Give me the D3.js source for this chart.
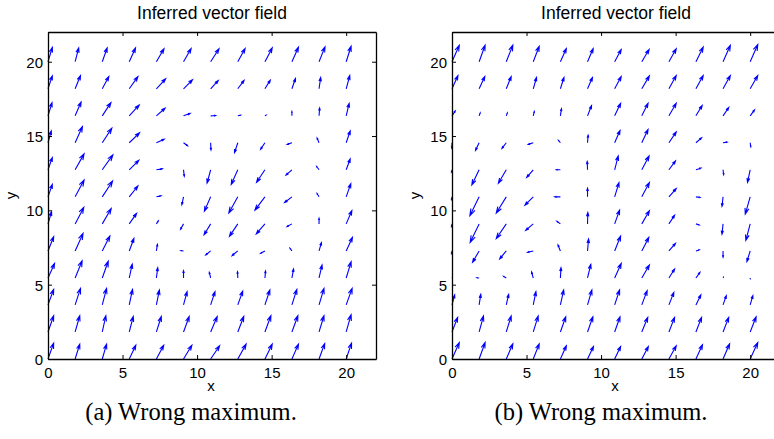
<!DOCTYPE html>
<html>
<head>
<meta charset="utf-8">
<script src="https://d3js.org/d3.v7.min.js"></script>
<style>
body { margin: 0; padding: 0; background: #fff; }
svg { display: block; }
.tick-label { font-family: "Liberation Sans", Arial, sans-serif; font-size: 15px; fill: #000; }
.title { font-family: "Liberation Sans", Arial, sans-serif; font-size: 17.5px; fill: #000; }
.caption { font-family: "Liberation Serif", "Times New Roman", serif; font-size: 24.5px; fill: #000; }
</style>
</head>
<body>
<svg id="chart" width="774" height="439"></svg>
<script>
// grid positions of the arrows (same for x and y)
const gridPts = [0, 1.82, 3.64, 5.45, 7.27, 9.09, 10.91, 12.73, 14.55, 16.36, 18.18, 20];
const tickVals = [0, 5, 10, 15, 20];

// (a) arrow components, rows from y=0 (bottom) to y=20 (top)
const uA = [
  [.38,.31,.29,.44,.49,.56,.6,.56,.49,.44,.38,.36],
  [.38,.31,.24,.27,.33,.38,.44,.4,.4,.4,.33,.33],
  [.38,.36,.29,.22,.2,.24,.29,.33,.33,.33,.33,.4],
  [.44,.47,.4,.2,.09,0,-.09,-.02,.04,.11,.2,.33],
  [.38,.53,.51,.31,.07,-.18,-.33,-.38,-.29,-.13,.16,.42],
  [.24,.58,.6,.49,.13,-.2,-.44,-.56,-.58,-.33,0,.38],
  [.29,.6,.69,.58,.31,-.11,-.42,-.6,-.67,-.49,-.13,.31],
  [.29,.6,.71,.64,.4,.05,-.24,-.44,-.56,-.4,-.16,.27],
  [.22,.49,.64,.69,.53,.27,.02,-.22,-.29,-.31,-.13,.27],
  [.27,.4,.58,.67,.58,.44,.33,.18,.07,0,.04,.2],
  [.29,.36,.44,.58,.62,.6,.51,.42,.36,.24,.11,.24],
  [.29,.24,.33,.42,.51,.51,.56,.49,.49,.44,.4,.33]
];
const vA = [
  [1.07,1.0,1.0,.93,.93,.93,.89,1.0,1.0,1.0,1.04,1.07],
  [1.09,1.09,1.09,1.04,1.04,1.04,1.04,1.04,1.09,1.09,1.09,1.16],
  [1.04,1.11,1.11,1.04,1.0,.89,.89,.93,1.0,1.04,1.11,1.11],
  [.98,1.16,1.13,.93,.69,.49,.38,.42,.47,.6,.87,1.09],
  [.96,1.18,1.0,.84,.44,.02,-.27,-.31,-.16,.18,.56,.91],
  [.82,1.11,1.04,.71,.2,-.36,-.73,-.84,-.67,-.18,.38,.89],
  [.84,1.13,1.07,.73,.07,-.53,-.96,-1.09,-.89,-.38,.22,.89],
  [.82,1.07,1.0,.64,.07,-.44,-.89,-.98,-.84,-.36,.22,.73],
  [.8,1.09,.98,.67,.24,-.2,-.49,-.67,-.44,-.11,.31,.8],
  [.89,.93,.89,.73,.51,.16,.02,.04,.04,.29,.53,.84],
  [.87,.89,.82,.82,.67,.6,.56,.56,.58,.69,.76,.89],
  [.96,.93,.93,.93,.87,.89,.87,.89,.93,.98,1.0,1.04]
];

// (b) arrow components
const uB = [
  [.49,.4,.44,.4,.4,.4,.4,.44,.49,.44,.44,.51],
  [.38,.29,.33,.33,.36,.36,.36,.4,.38,.38,.38,.4],
  [.18,.11,.16,.18,.22,.29,.33,.36,.33,.33,.22,.18],
  [.02,-.15,-.18,-.11,.04,.22,.44,.51,.38,.27,.02,0],
  [-.04,-.44,-.44,-.38,-.16,.07,.4,.47,.44,.22,0,-.22],
  [-.04,-.6,-.67,-.51,-.24,.02,.33,.51,.38,.22,-.07,-.29],
  [-.04,-.62,-.67,-.56,-.38,0,.29,.51,.49,.27,-.07,-.33],
  [-.04,-.49,-.53,-.44,-.27,-.02,.24,.49,.44,.33,.04,-.18],
  [-.02,-.24,-.29,-.33,-.13,.04,.36,.42,.49,.38,.27,.04],
  [.22,.07,.07,.07,.07,.27,.4,.42,.49,.42,.38,.29],
  [.4,.38,.33,.22,.24,.33,.44,.51,.49,.49,.49,.51],
  [.49,.4,.44,.4,.4,.38,.44,.49,.49,.49,.49,.51]
];
const vB = [
  [1.11,1.11,1.02,1.02,.89,.84,.84,.84,.89,.96,1.02,1.11],
  [.98,1.07,1.07,1.07,1.02,1.02,1.02,.98,.98,.98,.98,1.02],
  [.67,.71,.71,.89,1.0,1.0,1.0,.96,.84,.67,.62,.62],
  [.04,.02,.11,.4,.69,.91,.98,.87,.6,.38,.04,-.04],
  [-.18,-.76,-.53,-.09,.4,.8,1.0,.91,.51,.07,-.42,-.71],
  [-.18,-1.24,-.98,-.44,.18,.76,.93,.89,.58,-.07,-.69,-1.11],
  [-.18,-1.27,-1.09,-.56,0,.58,.96,.96,.56,-.04,-.64,-1.16],
  [-.15,-1.02,-.91,-.51,0,.56,.93,.93,.6,.11,-.33,-.84],
  [-.36,-.51,-.38,-.11,.16,.51,.82,.89,.73,.33,.04,-.27],
  [.33,.2,.2,.29,.47,.69,.84,.84,.84,.69,.56,.4],
  [.89,.82,.82,.76,.76,.76,.82,.87,.89,.89,.89,.89],
  [1.11,1.11,1.11,1.04,.89,.89,.82,.82,.87,.98,1.11,1.16]
];

const svg = d3.select("#chart");
svg.append("rect").attr("width", 774).attr("height", 439).attr("fill", "#fff");

function quiverPanel(left, U, V, caption, capX) {
  const top = 32, bottom = 359, w = 328;
  const x = d3.scaleLinear().domain([0, 22]).range([left, left + w]);
  const y = d3.scaleLinear().domain([0, 22]).range([bottom, top]);
  const g = svg.append("g");

  // arrows (matlab-style heads)
  const alpha = 0.33, beta = 0.33;
  const arrows = [];
  gridPts.forEach((gy, j) => gridPts.forEach((gx, i) => {
    arrows.push({x: gx, y: gy, u: U[j][i], v: V[j][i]});
  }));
  const path = d => {
    const x2 = d.x + d.u, y2 = d.y + d.v;
    const h1x = x2 - alpha * (d.u + beta * d.v), h1y = y2 - alpha * (d.v - beta * d.u);
    const h2x = x2 - alpha * (d.u - beta * d.v), h2y = y2 - alpha * (d.v + beta * d.u);
    return `M${x(d.x)},${y(d.y)}L${x(x2)},${y(y2)}` +
           `M${x(h1x)},${y(h1y)}L${x(x2)},${y(y2)}L${x(h2x)},${y(h2y)}`;
  };
  g.selectAll("path.arrow").data(arrows).enter().append("path")
    .attr("class", "arrow")
    .attr("d", path)
    .attr("fill", "none")
    .attr("stroke", "#0000ff")
    .attr("stroke-width", 1.1);

  // box with inward ticks on all sides
  const axB = g.append("g").attr("transform", `translate(0,${bottom})`)
    .call(d3.axisBottom(x).tickValues(tickVals).tickSize(-4).tickPadding(8).tickSizeOuter(0));
  const axT = g.append("g").attr("transform", `translate(0,${top})`)
    .call(d3.axisTop(x).tickValues(tickVals).tickSize(-4).tickFormat("").tickSizeOuter(0));
  const axL = g.append("g").attr("transform", `translate(${left},0)`)
    .call(d3.axisLeft(y).tickValues(tickVals).tickSize(-4).tickPadding(5).tickSizeOuter(0));
  const axR = g.append("g").attr("transform", `translate(${left + w},0)`)
    .call(d3.axisRight(y).tickValues(tickVals).tickSize(-4).tickFormat("").tickSizeOuter(0));
  [axB, axT, axL, axR].forEach(a => {
    a.selectAll("path.domain").attr("stroke", "#000").attr("stroke-width", 1.3);
    a.selectAll(".tick line").attr("stroke", "#000").attr("stroke-width", 1);
    a.selectAll(".tick text").attr("class", "tick-label").attr("font-family", null).attr("font-size", null);
  });
  axL.selectAll(".tick text").attr("dy", "0.36em");

  g.append("text").attr("class", "title")
    .attr("x", left + w / 2).attr("y", 19).attr("text-anchor", "middle")
    .text("Inferred vector field");
  g.append("text").attr("class", "tick-label")
    .attr("x", left + w / 2 - 1).attr("y", 391).attr("text-anchor", "middle")
    .text("x");
  g.append("text").attr("class", "tick-label")
    .attr("transform", `translate(${left - 32},${(top + bottom) / 2}) rotate(-90)`)
    .attr("text-anchor", "middle")
    .text("y");
  g.append("text").attr("class", "caption")
    .attr("x", capX).attr("y", 420).attr("text-anchor", "middle")
    .text(caption);
}

quiverPanel(48, uA, vA, "(a) Wrong maximum.", 191);
quiverPanel(452, uB, vB, "(b) Wrong maximum.", 601);
</script>
</body>
</html>
